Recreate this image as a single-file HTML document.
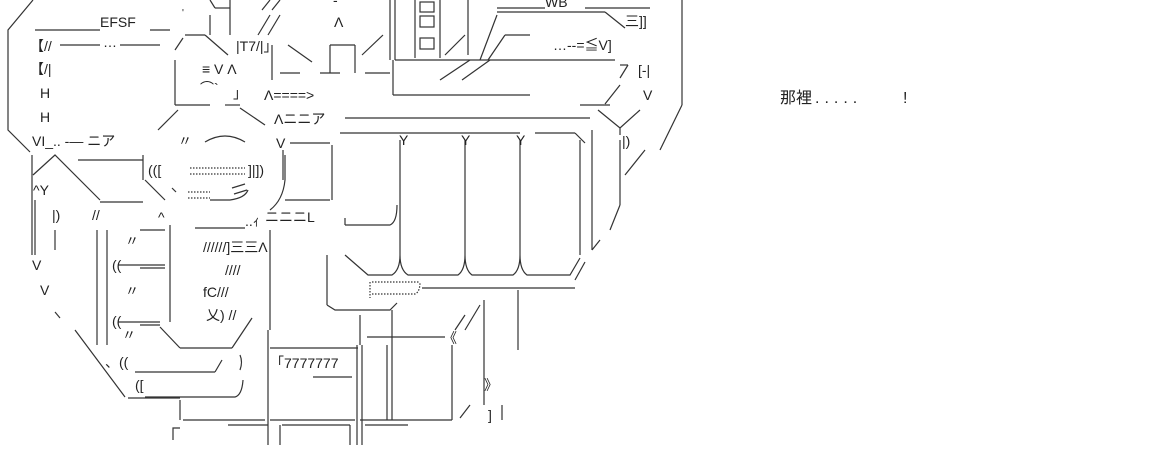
<!DOCTYPE html>
<html><head><meta charset="utf-8"><style>
html,body{margin:0;padding:0;background:#fff;width:1170px;height:475px;overflow:hidden}
svg{display:block}
text{font-family:"Liberation Sans","Noto Sans CJK JP",sans-serif;fill:#222}
</style></head><body>
<svg width="1170" height="475" viewBox="0 0 1170 475" xmlns="http://www.w3.org/2000/svg">
<g stroke="#333" stroke-width="1.2" fill="none">
<polyline points="33,0 8,30 8,130 30,152"/>
<line x1="32" y1="155" x2="32" y2="255"/>
<line x1="55" y1="312" x2="60" y2="318"/>
<line x1="75" y1="330" x2="125" y2="397"/>
<line x1="35" y1="30" x2="100" y2="30"/><line x1="150" y1="30" x2="170" y2="30"/>
<line x1="60" y1="45" x2="100" y2="45"/><line x1="120" y1="45" x2="160" y2="45"/>
<line x1="175" y1="50" x2="183" y2="38"/>
<line x1="185" y1="35" x2="205" y2="35"/><line x1="205" y1="35" x2="228" y2="55"/>
<line x1="175" y1="60" x2="175" y2="105"/><line x1="175" y1="105" x2="210" y2="105"/>
<line x1="225" y1="105" x2="240" y2="105"/><line x1="240" y1="108" x2="265" y2="125"/>
<line x1="158" y1="130" x2="178" y2="110"/>
<line x1="210" y1="0" x2="215" y2="8"/><line x1="215" y1="8" x2="230" y2="8"/>
<line x1="230" y1="0" x2="230" y2="35"/><line x1="210" y1="15" x2="210" y2="35"/>
<line x1="258" y1="35" x2="270" y2="15"/><line x1="268" y1="35" x2="280" y2="15"/>
<line x1="262" y1="10" x2="270" y2="0"/><line x1="272" y1="10" x2="280" y2="0"/>
<line x1="272" y1="45" x2="272" y2="80"/><line x1="280" y1="73" x2="300" y2="73"/>
<line x1="288" y1="45" x2="312" y2="62"/>
<line x1="320" y1="73" x2="340" y2="73"/><line x1="330" y1="45" x2="330" y2="73"/><line x1="355" y1="45" x2="355" y2="73"/>
<line x1="330" y1="45" x2="355" y2="45"/>
<line x1="365" y1="73" x2="390" y2="73"/>
<line x1="362" y1="55" x2="383" y2="35"/>
<line x1="390" y1="0" x2="390" y2="60"/><line x1="395" y1="0" x2="395" y2="60"/>
<line x1="415" y1="0" x2="415" y2="58"/><line x1="440" y1="0" x2="440" y2="58"/>
<rect x="420" y="2" width="14" height="10"/><rect x="420" y="16" width="14" height="11"/><rect x="420" y="38" width="14" height="11"/>
<line x1="468" y1="0" x2="468" y2="55"/>
<line x1="445" y1="55" x2="465" y2="35"/>
<line x1="480" y1="60" x2="497" y2="15"/>
<line x1="488" y1="60" x2="505" y2="35"/><line x1="505" y1="35" x2="530" y2="35"/>
<line x1="497" y1="8" x2="545" y2="8"/><line x1="585" y1="8" x2="650" y2="8"/>
<line x1="497" y1="12" x2="605" y2="12"/><line x1="605" y1="12" x2="625" y2="28"/>
<line x1="682" y1="0" x2="682" y2="105"/><line x1="682" y1="105" x2="660" y2="150"/>
<line x1="395" y1="60" x2="615" y2="60"/>
<line x1="440" y1="80" x2="470" y2="60"/><line x1="462" y1="80" x2="490" y2="60"/>
<line x1="393" y1="60" x2="393" y2="95"/>
<line x1="393" y1="95" x2="530" y2="95"/>
<line x1="620" y1="65" x2="628" y2="65"/><line x1="628" y1="65" x2="620" y2="78"/>
<line x1="620" y1="85" x2="605" y2="104"/><line x1="580" y1="105" x2="610" y2="105"/>
<line x1="345" y1="118" x2="590" y2="118"/>
<polyline points="598,110 620,128 640,110"/>
<line x1="620" y1="128" x2="620" y2="135"/>
<line x1="645" y1="150" x2="625" y2="175"/>
<line x1="290" y1="143" x2="330" y2="143"/>
<line x1="340" y1="133" x2="520" y2="133"/><line x1="535" y1="133" x2="575" y2="133"/>
<line x1="575" y1="133" x2="585" y2="143"/>
<line x1="332" y1="145" x2="332" y2="200"/>
<line x1="400" y1="140" x2="400" y2="255"/><line x1="465" y1="140" x2="465" y2="255"/><line x1="520" y1="140" x2="520" y2="255"/>
<line x1="580" y1="140" x2="580" y2="255"/><line x1="592" y1="130" x2="592" y2="250"/>
<line x1="620" y1="140" x2="620" y2="205"/><line x1="620" y1="205" x2="610" y2="230"/>
<line x1="592" y1="250" x2="600" y2="240"/>
<path d="M345,225 L390,225 Q397,222 397,205"/>
<path d="M345,255 L368,275 L392,275 Q400,270 400,255 Q400,270 408,275 L458,275 Q465,270 465,255 Q465,270 472,275 L513,275 Q520,270 520,255 Q520,270 527,275 L570,275 L580,258"/>
<line x1="585" y1="262" x2="575" y2="280"/>
<line x1="422" y1="288" x2="575" y2="288"/>
<path d="M370,282 L370,298 M372,282 L420,282 M372,294 L415,294 Q420,292 420,282" stroke-dasharray="1.5 1.5"/>
<line x1="327" y1="255" x2="327" y2="305"/>
<path d="M327,305 L335,310 L390,310 L397,303"/>
<line x1="518" y1="290" x2="518" y2="350"/>
<line x1="392" y1="310" x2="392" y2="420"/><line x1="387" y1="345" x2="387" y2="420"/>
<path d="M205,142 Q225,130 245,142"/>
<line x1="285" y1="155" x2="285" y2="180"/><path d="M285,180 Q283,200 270,210"/>
<line x1="285" y1="200" x2="330" y2="200"/>
<path d="M190,168 L245,168 M190,174 L245,174" stroke-dasharray="1.5 1.5"/>
<path d="M188,192 L210,192 M188,198 L210,198" stroke-dasharray="1.5 1.5"/>
<path d="M210,200 L230,200 Q245,198 248,190"/>
<path d="M232,188 L245,184 M234,194 L247,190"/>
<line x1="172" y1="188" x2="176" y2="192"/>
<polyline points="33,175 55,155 100,200"/>
<line x1="78" y1="160" x2="143" y2="160"/><line x1="143" y1="155" x2="143" y2="180"/>
<line x1="100" y1="202" x2="143" y2="202"/>
<line x1="145" y1="180" x2="165" y2="200"/>
<line x1="283" y1="150" x2="283" y2="180"/>
<line x1="35" y1="200" x2="35" y2="255"/>
<line x1="55" y1="230" x2="55" y2="250"/>
<line x1="97" y1="230" x2="97" y2="345"/><line x1="107" y1="230" x2="107" y2="345"/>
<line x1="140" y1="230" x2="165" y2="230"/>
<line x1="170" y1="225" x2="170" y2="322"/>
<line x1="195" y1="228" x2="245" y2="228"/>
<line x1="270" y1="230" x2="270" y2="330"/>
<line x1="345" y1="218" x2="345" y2="225"/>
<line x1="118" y1="265" x2="165" y2="265"/><line x1="140" y1="268" x2="165" y2="268"/>
<line x1="118" y1="322" x2="160" y2="322"/><line x1="140" y1="325" x2="160" y2="325"/>
<line x1="160" y1="327" x2="180" y2="348"/><line x1="180" y1="348" x2="232" y2="348"/><line x1="232" y1="348" x2="252" y2="318"/>
<line x1="135" y1="372" x2="215" y2="372"/><line x1="215" y1="372" x2="222" y2="360"/>
<path d="M145,397 L235,397 Q242,395 243,380"/><path d="M240,355 Q243,362 240,370"/>
<line x1="128" y1="398" x2="180" y2="398"/>
<line x1="180" y1="400" x2="180" y2="420"/><line x1="183" y1="420" x2="265" y2="420"/>
<polyline points="173,440 173,428 180,428"/>
<line x1="268" y1="330" x2="268" y2="445"/>
<line x1="270" y1="348" x2="358" y2="348"/>
<line x1="313" y1="377" x2="352" y2="377"/>
<line x1="357" y1="345" x2="357" y2="445"/><line x1="362" y1="345" x2="362" y2="445"/>
<line x1="360" y1="315" x2="360" y2="345"/>
<line x1="367" y1="337" x2="445" y2="337"/>
<line x1="455" y1="330" x2="465" y2="315"/><line x1="465" y1="330" x2="480" y2="305"/>
<line x1="452" y1="345" x2="452" y2="420"/>
<line x1="484" y1="300" x2="484" y2="405"/>
<line x1="502" y1="405" x2="502" y2="420"/>
<line x1="460" y1="418" x2="470" y2="405"/>
<line x1="270" y1="420" x2="355" y2="420"/><line x1="360" y1="420" x2="452" y2="420"/>
<line x1="228" y1="425" x2="268" y2="425"/>
<line x1="280" y1="425" x2="280" y2="445"/><line x1="282" y1="425" x2="350" y2="425"/>
<line x1="350" y1="425" x2="350" y2="445"/><line x1="365" y1="425" x2="408" y2="425"/>
</g>
<g font-size="14">
<text x="100" y="27">EFSF</text>
<text x="182" y="16" font-size="10">'</text>
<text x="30" y="51">【//</text>
<text x="103" y="47">…</text>
<text x="236" y="51">|T7/|」</text>
<text x="30" y="74">【/|</text>
<text x="202" y="74">≡  V Λ</text>
<text x="40" y="98">H</text>
<text x="40" y="122">H</text>
<text x="200" y="93">⌒`</text>
<text x="233" y="98">」</text>
<text x="264" y="100">Λ====&gt;</text>
<text x="274" y="124">Λニニア</text>
<text x="32" y="146">VI_.. -—  ニア</text>
<text x="178" y="146">〃</text>
<text x="276" y="148">V</text>
<text x="333" y="5">-</text>
<text x="334" y="27">Λ</text>
<text x="545" y="7">WB</text>
<text x="625" y="26">三]]</text>
<text x="553" y="50">…--=≦V]</text>
<text x="638" y="75">[-|</text>
<text x="643" y="100">V</text>
<text x="622" y="146">|)</text>
<text x="399" y="145">Y</text>
<text x="461" y="145">Y</text>
<text x="516" y="145">Y</text>
<text x="148" y="175">(([</text>
<text x="248" y="175">]|])</text>
<text x="33" y="195">^Y</text>
<text x="52" y="220">|)</text>
<text x="32" y="270">V</text>
<text x="40" y="295">V</text>
<text x="92" y="220">//</text>
<text x="158" y="222">^</text>
<text x="245" y="226">..ｨ</text>
<text x="265" y="222">ニニニL</text>
<text x="125" y="246">〃</text>
<text x="203" y="252">//////]三三Λ</text>
<text x="225" y="275">////</text>
<text x="112" y="270">((</text>
<text x="125" y="296">〃</text>
<text x="203" y="297">fC///</text>
<text x="206" y="320">乂)  //</text>
<text x="112" y="326">((</text>
<text x="122" y="340">〃</text>
<text x="105" y="367">、((</text>
<text x="135" y="390">([</text>
<text x="270" y="368">「7777777</text>
<text x="443" y="343">《</text>
<text x="484" y="390">》</text>
<text x="488" y="420">]</text>
<text x="780" y="103" font-size="16">那裡</text>
<text x="815" y="103" font-size="16" letter-spacing="5">.....</text>
<text x="903" y="103" font-size="16">!</text>
</g>
</svg>
</body></html>
